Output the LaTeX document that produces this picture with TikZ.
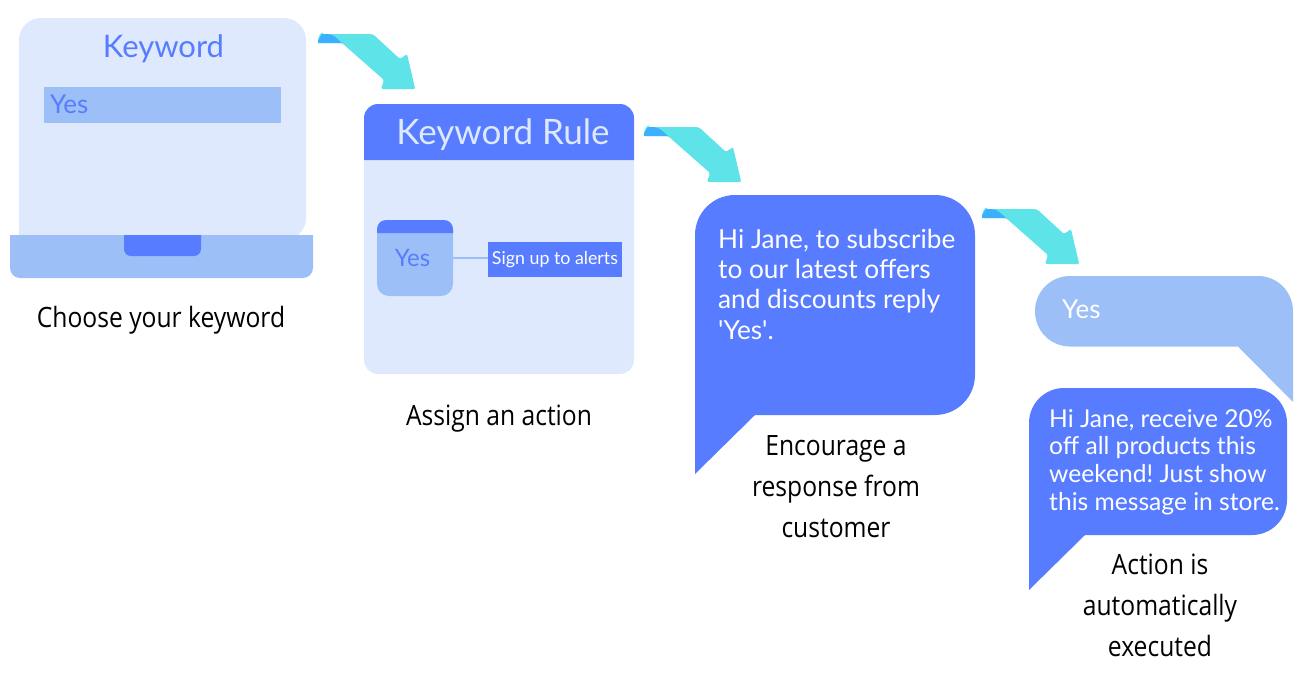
\documentclass[tikz,border=0pt]{standalone}
\usepackage{fontspec}
\setmainfont{Lato}
\newfontfamily\capfont[FakeStretch=0.88]{Open Sans}
\definecolor{paleblue}{HTML}{DEE9FD}
\definecolor{midblue}{HTML}{9DBFF7}
\definecolor{strongblue}{HTML}{587CFF}
\definecolor{arrowcyan}{HTML}{5DE3E8}
\definecolor{arrowblue}{HTML}{3BB0FF}
\newcommand{\din}[1]{\fontsize{#1}{#1}\selectfont}
\frenchspacing
\tikzset{
  x=1pt,y=-1pt,
  txt/.style={inner sep=0pt,outer sep=0pt,font=\din{#1}},
  caption/.style={inner sep=0pt,align=center,font=\capfont\fontsize{28}{41}\selectfont,text=black},
  msg/.style={inner sep=0pt,anchor=base west,text=white,font=\din{#1}},
  pics/flow/.style={code={
    \fill[arrowcyan,rounded corners=1.5pt] (4,0) -- (50,0) to[out=0,in=135] (58,3) -- (82,25) -- (89,20) -- (97,54) -- (97,55) -- (63,55) -- (66,46) -- (24,9) -- (0,9) -- (0,4) to[out=-90,in=180] cycle;
    \fill[arrowblue] (0,9) -- (0,6) to[out=-90,in=180] (5,0) -- (9,0) to[out=0,in=140] (24,9) -- cycle;
  }}
}
\begin{document}
\begin{tikzpicture}
\useasboundingbox (0,0) rectangle (1312,678);
% laptop
\fill[paleblue,rounded corners=22pt] (19,240) -- (19,18) -- (306,18) -- (306,240) [sharp corners] -- cycle;
\fill[midblue] (10,235) -- (313,235) [rounded corners=10pt] -- (313,278) -- (10,278) [sharp corners] -- cycle;
\fill[strongblue] (124,235) -- (201,235) [rounded corners=7pt] -- (201,256) -- (124,256) [sharp corners] -- cycle;
\node[txt=31,text=strongblue,anchor=base] (kwtitle) at (163.5,57) {Keyword};
\fill[midblue] (44,87) rectangle (281,123);
\node[txt=26,text=strongblue,anchor=base west] (kwyes) at (50,113.5) {Yes};
\node[caption,anchor=base] (cap1) at (161,327) {Choose your keyword};
% rule panel
\fill[paleblue] (364,160) -- (634,160) [rounded corners=14pt] -- (634,374) -- (364,374) [sharp corners] -- cycle;
\fill[strongblue] (364,160) [rounded corners=14pt] -- (364,104) -- (634,104) [sharp corners] -- (634,160) -- cycle;
\node[txt=35,text=paleblue,anchor=base] (ruletitle) at (503,144.5) {Keyword Rule};
\fill[midblue] (377,233) -- (453,233) [rounded corners=12pt] -- (453,296) -- (377,296) [sharp corners] -- cycle;
\fill[strongblue] (377,233) [rounded corners=9pt] -- (377,220) -- (453,220) [sharp corners] -- (453,233) -- cycle;
\node[txt=24,text=strongblue,anchor=base] (ruleyes) at (412.5,266) {Yes};
\coordinate (cardedge) at (453,258);
\node[fill=strongblue,text=white,inner sep=0pt,minimum width=134pt,minimum height=35pt,font=\din{17.8}] (alerts) at (555,259.5) {Sign up to alerts};
\draw[midblue,line width=1.2pt] (cardedge) -- (cardedge -| alerts.west);
\node[caption,anchor=base] (cap2) at (499,425.5) {Assign an action};
% first bubble
\fill[strongblue] (695,474) [rounded corners=40pt] -- (695,195) -- (975,195) -- (975,415) [sharp corners] -- (755,415) -- cycle;
\node[msg=26.2] (m1a) at (718,248) {Hi Jane, to subscribe};
\node[msg=26.2] (m1b) at (718,278) {to our latest offers};
\node[msg=26.2] (m1c) at (718,308.5) {and discounts reply};
\node[msg=26.2] (m1d) at (718,339) {\textquotesingle Yes\textquotesingle.};
\node[caption] (cap3) at (836,487) {Encourage a\\response from\\customer};
% reply bubble
\fill[midblue] (1293,402) -- (1238,346.5) [rounded corners=35pt] -- (1035,346.5) -- (1035,276) -- (1293,276) [sharp corners] -- cycle;
\node[msg=26] (reply) at (1062,318) {Yes};
% last bubble
\fill[strongblue] (1029,590) [rounded corners=35pt] -- (1029,388) -- (1287,388) -- (1287,535) [sharp corners] -- (1085,535) -- cycle;
\node[msg=24.6] (m2a) at (1049,427) {Hi Jane, receive 20\%};
\node[msg=24.6] (m2b) at (1049,454.5) {off all products this};
\node[msg=24.6] (m2c) at (1049,482) {weekend! Just show};
\node[msg=24.6] (m2d) at (1049,510) {this message in store.};
\node[caption] (cap4) at (1160,605) {Action is\\automatically\\executed};
% arrows
\pic at (318,34) {flow};
\pic at (644,127) {flow};
\pic at (982,209) {flow};
\end{tikzpicture}
\end{document}
